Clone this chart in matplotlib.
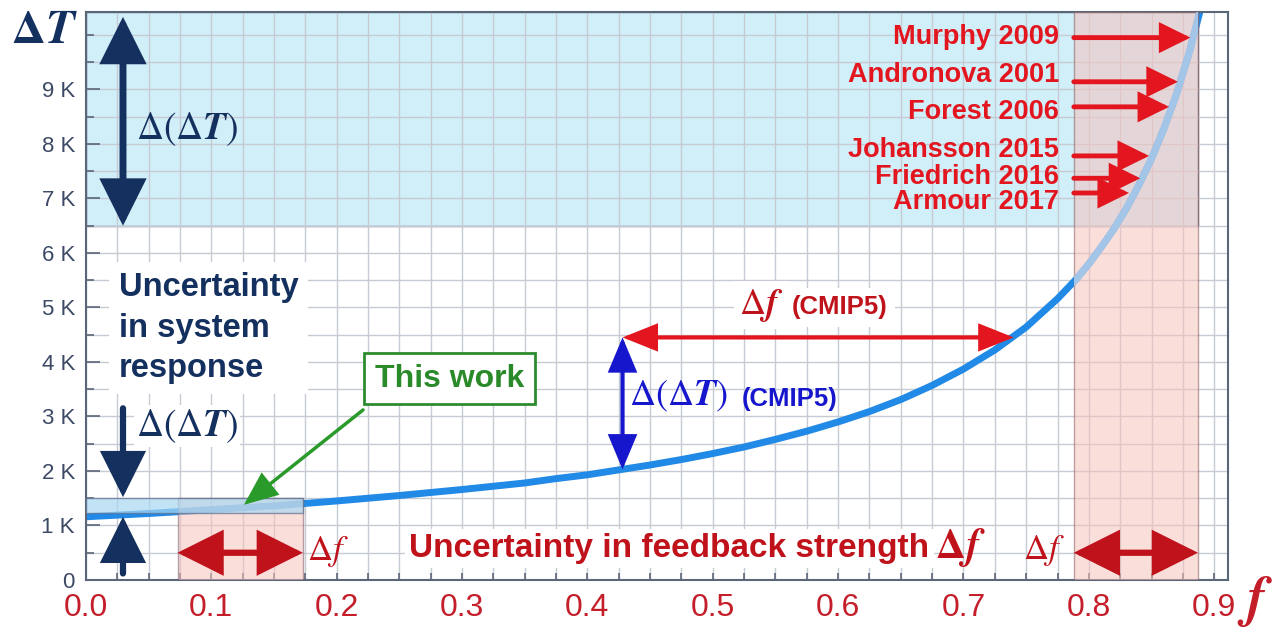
import matplotlib
matplotlib.use("Agg")
import matplotlib.pyplot as plt
from matplotlib import font_manager
from matplotlib.patches import Rectangle
from matplotlib.ticker import MultipleLocator, FixedLocator, FixedFormatter

# Curve: equilibrium warming vs feedback strength f
F_VALS = [0.0, 0.05, 0.1, 0.15, 0.2, 0.25, 0.3, 0.325, 0.35, 0.375, 0.4,
          0.425, 0.45, 0.475, 0.5, 0.525, 0.55, 0.575, 0.6, 0.625, 0.65,
          0.675, 0.7, 0.725, 0.75, 0.775, 0.79, 0.8, 0.81, 0.82, 0.83, 0.84,
          0.85, 0.86, 0.87, 0.88, 0.89]
DT_VALS = [1.16, 1.22, 1.29, 1.36, 1.45, 1.55, 1.66, 1.72, 1.78, 1.86, 1.93,
           2.02, 2.11, 2.21, 2.32, 2.44, 2.58, 2.73, 2.90, 3.09, 3.31,
           3.57, 3.87, 4.22, 4.64, 5.16, 5.52, 5.80, 6.11, 6.44, 6.82, 7.25,
           7.73, 8.29, 8.92, 9.67, 10.55]

# Uncertainty ranges
THIS_WORK_F = (0.073, 0.173)
THIS_WORK_DT = (1.23, 1.50)
CMIP5_F = (0.428, 0.740)
CMIP5_DT = (2.03, 4.45)
STUDIES_F = (0.788, 0.887)
STUDIES_DT_LOW = 6.5

# Literature estimates (arrow tips on the curve) and label heights
STUDY_NAMES = ["Murphy 2009", "Andronova 2001", "Forest 2006",
               "Johansson 2015", "Friedrich 2016", "Armour 2017"]
STUDY_F = [0.881, 0.871, 0.864, 0.848, 0.841, 0.832]
STUDY_DT = [9.95, 9.14, 8.68, 7.78, 7.37, 7.10]
STUDY_LABEL_DT = [9.96, 9.27, 8.59, 7.89, 7.40, 6.94]

X_TICKS = [0.0, 0.1, 0.2, 0.3, 0.4, 0.5, 0.6, 0.7, 0.8, 0.9]
X_TICKLABELS = ["0.0", "0.1", "0.2", "0.3", "0.4", "0.5", "0.6", "0.7", "0.8", "0.9"]
Y_TICKS = [0, 1, 2, 3, 4, 5, 6, 7, 8, 9]
Y_TICKLABELS = ["0", "1 K", "2 K", "3 K", "4 K", "5 K", "6 K", "7 K", "8 K", "9 K"]

X_MAX = 0.911
Y_MAX = 10.42

NAVY = "#14305e"
RED = "#e3161f"
DARK_RED = "#c0121b"
GREEN = "#2a8a2a"
BLUE = "#1616cc"
CURVE = "#2189e6"
CYAN = "#d0eff9"
PINK = "#f6c3bd"

installed = {f.name for f in font_manager.fontManager.ttflist}
NARROW = "Liberation Sans Narrow" if "Liberation Sans Narrow" in installed else "Liberation Sans"
plt.rcParams["mathtext.fontset"] = "stix"

fig = plt.figure(figsize=(12.83, 6.27), dpi=100)
ax = fig.add_axes([86 / 1283, 1 - 580 / 627, (1228 - 86) / 1283, (580 - 12) / 627])
ax.set_xlim(0, X_MAX)
ax.set_ylim(0, Y_MAX)

# grid and ticks
ax.xaxis.set_major_locator(FixedLocator(X_TICKS))
ax.xaxis.set_major_formatter(FixedFormatter(X_TICKLABELS))
ax.yaxis.set_major_locator(FixedLocator(Y_TICKS))
ax.yaxis.set_major_formatter(FixedFormatter(Y_TICKLABELS))
ax.xaxis.set_minor_locator(MultipleLocator(0.025))
ax.yaxis.set_minor_locator(MultipleLocator(0.5))
ax.grid(which="both", color="#c6cbd3", linewidth=1.0)
ax.tick_params(axis="x", which="both", direction="in", length=5, width=1.2,
               color="#5c6679", labelsize=23, labelcolor="#c41e2a", pad=9)
ax.tick_params(axis="y", which="major", direction="in", length=10, width=1.2,
               color="#5c6679", labelsize=16, labelcolor="#3d4a66", pad=8)
ax.tick_params(axis="y", which="minor", direction="in", length=6, width=1.2,
               color="#5c6679")
for lab in ax.get_xticklabels() + ax.get_yticklabels():
    lab.set_fontfamily(NARROW)
for sp in ax.spines.values():
    sp.set_color("#5c6679")
    sp.set_linewidth(1.5)

# shaded ranges
ax.add_patch(Rectangle((0, STUDIES_DT_LOW), STUDIES_F[1], Y_MAX - STUDIES_DT_LOW,
                       facecolor=CYAN, edgecolor="#5f6f8c", linewidth=1.0, zorder=1))
ax.plot(F_VALS, DT_VALS, color=CURVE, linewidth=5, solid_capstyle="butt",
        solid_joinstyle="round", zorder=2.5)
studies_box = Rectangle((STUDIES_F[0], 0), STUDIES_F[1] - STUDIES_F[0], Y_MAX,
                        facecolor=PINK, edgecolor="#8a5a5a", linewidth=1.0,
                        alpha=0.55, zorder=3)
ax.add_patch(studies_box)
# curve seen through the literature range is washed out
faded, = ax.plot(F_VALS, DT_VALS, color="#a3c5e8", linewidth=5,
                 solid_joinstyle="round", zorder=3.05)
faded.set_clip_path(studies_box)

ax.add_patch(Rectangle((THIS_WORK_F[0], 0), THIS_WORK_F[1] - THIS_WORK_F[0],
                       THIS_WORK_DT[1], facecolor=PINK, edgecolor="#7a5a6a",
                       linewidth=1.0, alpha=0.55, zorder=3))
ax.add_patch(Rectangle((0, THIS_WORK_DT[0]), THIS_WORK_F[1],
                       THIS_WORK_DT[1] - THIS_WORK_DT[0], facecolor="#a9d8f2",
                       edgecolor="#5f6f8c", linewidth=1.0, alpha=0.7, zorder=3.2))


def arrow(x0, y0, x1, y1, color, lw, style, hl, hw, z=5):
    ax.annotate("", xy=(x1, y1), xytext=(x0, y0),
                arrowprops=dict(arrowstyle=f"{style},head_length={hl},head_width={hw}",
                                color=color, lw=lw, shrinkA=0, shrinkB=0,
                                mutation_scale=20, joinstyle="miter"),
                zorder=z)


# system response uncertainty arrows (navy)
arrow(0.0295, STUDIES_DT_LOW, 0.0295, 10.33, NAVY, 5, "<|-|>", 1.3, 0.65)
arrow(0.0295, 3.15, 0.0295, THIS_WORK_DT[1] + 0.02, NAVY, 4.5, "-|>", 1.3, 0.65)
arrow(0.0295, 0.12, 0.0295, DT_VALS[0], NAVY, 4.5, "-|>", 1.3, 0.65)

ax.text(0.040, 8.28, r"$\Delta(\Delta\mathbfit{T})$", color=NAVY, fontsize=27,
        ha="left", va="center", zorder=6)
ax.text(0.026, 4.62, "Uncertainty\nin system\nresponse", color=NAVY,
        fontsize=23.5, fontweight="bold", family=NARROW, ha="left", va="center",
        linespacing=1.4, zorder=6,
        bbox=dict(boxstyle="square,pad=0.3", fc="white", ec="none"))
ax.text(0.040, 2.82, r"$\Delta(\Delta\mathbfit{T})$", color=NAVY, fontsize=27,
        ha="left", va="center", zorder=6,
        bbox=dict(boxstyle="square,pad=0.05", fc="white", ec="none"))

# this work
ax.text(0.290, 3.69, "This work", color=GREEN, fontsize=23, fontweight="bold",
        family=NARROW, ha="center", va="center", zorder=6,
        bbox=dict(boxstyle="square,pad=0.33", fc="white", ec="#2e8b2e", lw=2))
arrow(0.221, 3.12, 0.126, 1.38, "#2a9a2a", 2.5, "-|>", 1.0, 0.42)

# feedback strength uncertainty, this work
arrow(THIS_WORK_F[0], 0.5, THIS_WORK_F[1], 0.5, DARK_RED, 4.5, "<|-|>", 1.3, 0.65)
ax.text(0.176, 0.52, r"$\Delta f$", color=DARK_RED, fontsize=25,
        ha="left", va="center", zorder=6)
ax.text(0.258, 0.57, "Uncertainty in feedback strength", color=DARK_RED,
        fontsize=24, fontweight="bold", family=NARROW, ha="left", va="center",
        zorder=6, bbox=dict(boxstyle="square,pad=0.12", fc="white", ec="none"))
ax.text(0.677, 0.6, r"$\mathbf{\Delta}\mathbfit{f}$", color=DARK_RED,
        fontsize=30, ha="left", va="center", zorder=6)

# CMIP5 ranges
arrow(CMIP5_F[0], CMIP5_DT[0], CMIP5_F[0], CMIP5_DT[1], BLUE, 3, "<|-|>", 1.0, 0.42)
ax.text(0.433, 3.36, r"$\Delta(\Delta\mathbfit{T})$", color=BLUE, fontsize=26,
        ha="left", va="center", zorder=6)
ax.text(0.523, 3.32, "(CMIP5)", color=BLUE, fontsize=18.5, fontweight="bold",
        family=NARROW, ha="left", va="center", zorder=6)
arrow(CMIP5_F[0], CMIP5_DT[1], CMIP5_F[1], CMIP5_DT[1], RED, 3, "<|-|>", 1.0, 0.4)
ax.text(0.521, 5.04, r"$\Delta\mathbfit{f}$", color=DARK_RED, fontsize=26,
        ha="left", va="center", zorder=6,
        bbox=dict(boxstyle="square,pad=0.15", fc="white", ec="none"))
ax.text(0.563, 5.0, "(CMIP5)", color=DARK_RED, fontsize=18.5, fontweight="bold",
        family=NARROW, ha="left", va="center", zorder=6,
        bbox=dict(boxstyle="square,pad=0.3", fc="white", ec="none"))

# literature estimates
for name, sf, sdt, ldt in zip(STUDY_NAMES, STUDY_F, STUDY_DT, STUDY_LABEL_DT):
    ax.text(0.776, ldt, name, color=RED, fontsize=19.5, fontweight="bold",
            family=NARROW, ha="right", va="center", zorder=6)
    arrow(STUDIES_F[0], sdt, sf, sdt, RED, 3.5, "-|>", 0.85, 0.42)

arrow(STUDIES_F[0], 0.5, STUDIES_F[1], 0.5, DARK_RED, 4.5, "<|-|>", 1.3, 0.65)
ax.text(0.781, 0.55, r"$\Delta f$", color=DARK_RED, fontsize=25,
        ha="right", va="center", zorder=6)

# axis names
fig.text(0.035, 0.952, r"$\mathbf{\Delta}\mathbfit{T}$", color=NAVY, fontsize=34,
         ha="center", va="center")
fig.text(0.978, 0.040, r"$\mathbfit{f}$", color="#c41e2a", fontsize=40,
         ha="center", va="center")

fig.savefig("out.png", dpi=100)
